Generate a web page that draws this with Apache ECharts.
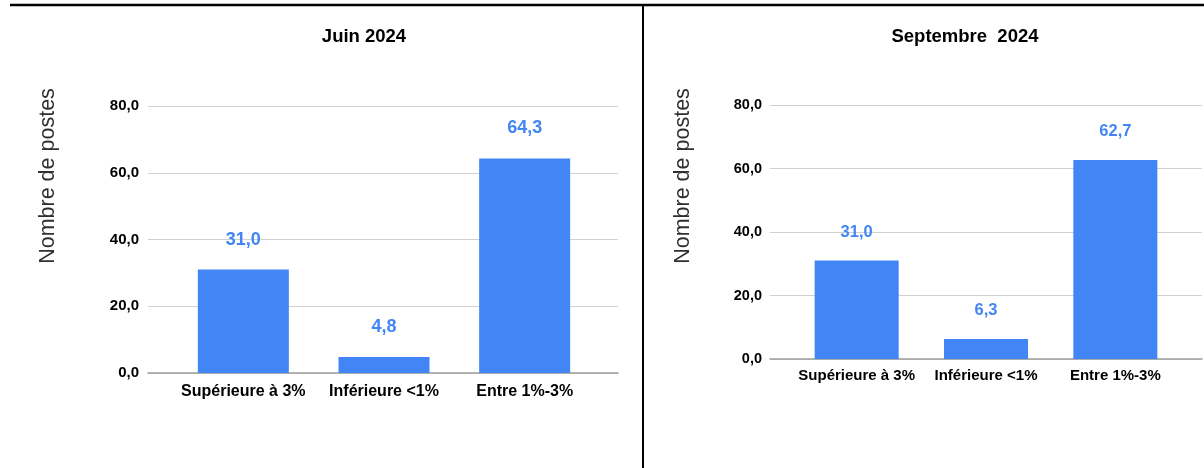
<!DOCTYPE html>
<html lang="fr">
<head>
<meta charset="utf-8">
<title>Nombre de postes par tranche</title>
<script src="https://cdn.jsdelivr.net/npm/echarts@6/dist/echarts.min.js"></script>
<style>
  html, body { margin: 0; padding: 0; background: #ffffff; }
  #chart { width: 1204px; height: 468px; }
</style>
</head>
<body>
<div id="chart"></div>
<script>
// Catégories et valeurs (nombre de postes)
const categories = ['Supérieure à 3%', 'Inférieure <1%', 'Entre 1%-3%'];
const juin2024 = [31.0, 4.8, 64.3];
const septembre2024 = [31.0, 6.3, 62.7];
const panelTitles = ['Juin 2024', 'Septembre  2024'];
const axisTitle = 'Nombre de postes';
const yMin = 0, yMax = 80, yStep = 20;

const FONT = "'Liberation Sans', Arial, sans-serif";
const BAR_COLOR = '#4285f4';
const fmt = v => v.toFixed(1).replace('.', ',');

// Two panels; each uses a wide grid for the gridlines/baseline and a
// narrower grid on top of it for the bars and category labels.
const panels = [
  { base: { left: 148, right: 586, top: 106, bottom: 95 },
    bars: { left: 173, right: 609, top: 106, bottom: 95 },
    data: juin2024, barWidth: 91, yFont: 15, xFont: 16, lblFont: 18,
    lblDist: 21, xMargin: 11, yMargin: 9 },
  { base: { left: 770, right: 2, top: 105, bottom: 109 },
    bars: { left: 792, right: 24, top: 105, bottom: 109 },
    data: septembre2024, barWidth: 84, yFont: 14.5, xFont: 15, lblFont: 16.5,
    lblDist: 20, xMargin: 9, yMargin: 8 }
];

const grid = [], xAxis = [], yAxis = [], series = [];
panels.forEach((p, i) => {
  const gBase = grid.length;
  grid.push(p.base, p.bars);
  // base grid: gridlines, y labels, baseline
  xAxis.push({
    gridIndex: gBase, type: 'value', min: 0, max: 1,
    axisLine: { show: true, onZero: false, lineStyle: { color: '#9e9e9e', width: 1.5 } },
    axisTick: { show: false }, axisLabel: { show: false }, splitLine: { show: false }
  });
  yAxis.push({
    gridIndex: gBase, type: 'value', min: yMin, max: yMax, interval: yStep,
    axisLine: { show: false }, axisTick: { show: false },
    axisLabel: { formatter: fmt, color: '#000', fontWeight: 'bold',
                 fontFamily: FONT, fontSize: p.yFont, margin: p.yMargin },
    splitLine: { lineStyle: { color: '#d0d0d0', width: 1 } }
  });
  // bar grid
  xAxis.push({
    gridIndex: gBase + 1, type: 'category', data: categories,
    axisLine: { show: false }, axisTick: { show: false },
    axisLabel: { color: '#000', fontWeight: 'bold', fontFamily: FONT,
                 fontSize: p.xFont, margin: p.xMargin, interval: 0 }
  });
  yAxis.push({
    gridIndex: gBase + 1, type: 'value', min: yMin, max: yMax, interval: yStep, show: false
  });
  series.push({
    type: 'bar', xAxisIndex: gBase + 1, yAxisIndex: gBase + 1,
    data: p.data, barWidth: p.barWidth, z: 3,
    itemStyle: { color: BAR_COLOR },
    label: { show: true, position: 'top', distance: p.lblDist, formatter: d => fmt(d.value),
             color: BAR_COLOR, fontWeight: 'bold', fontFamily: FONT, fontSize: p.lblFont }
  });
});

const titleStyle = { fontFamily: FONT, fontWeight: 'bold', fontSize: 18.5, color: '#000' };

const chart = echarts.init(document.getElementById('chart'), null, { renderer: 'canvas' });
chart.setOption({
  animation: false,
  backgroundColor: '#ffffff',
  title: [
    { text: panelTitles[0], left: 359, top: 22, textAlign: 'center', textStyle: titleStyle },
    { text: panelTitles[1], left: 960, top: 22, textAlign: 'center', textStyle: titleStyle }
  ],
  grid, xAxis, yAxis, series,
  graphic: [
    // frame lines separating the panels
    { type: 'line', shape: { x1: 10, y1: 5, x2: 1204, y2: 5 },
      style: { stroke: '#000', lineWidth: 2.5 } },
    { type: 'line', shape: { x1: 643, y1: 5, x2: 643, y2: 468 },
      style: { stroke: '#000', lineWidth: 2 } },
    // vertical axis titles
    { type: 'text', x: 48, y: 176, rotation: Math.PI / 2,
      style: { text: axisTitle, fill: '#2f2f2f', font: "21.5px " + FONT,
               align: 'center', verticalAlign: 'middle' } },
    { type: 'text', x: 683, y: 176, rotation: Math.PI / 2,
      style: { text: axisTitle, fill: '#2f2f2f', font: "21.5px " + FONT,
               align: 'center', verticalAlign: 'middle' } }
  ]
});
</script>
</body>
</html>
